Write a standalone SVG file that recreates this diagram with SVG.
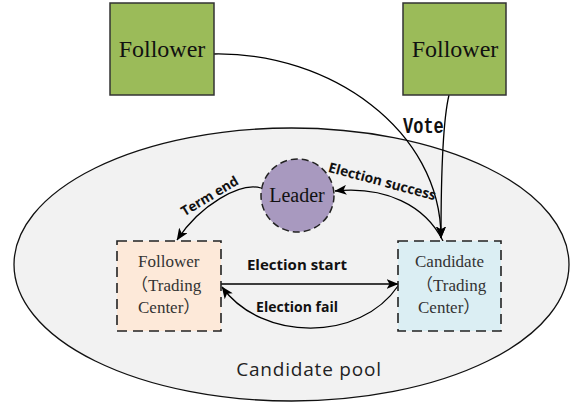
<svg xmlns="http://www.w3.org/2000/svg" width="581" height="403" viewBox="0 0 581 403">
  <style>
    .big { font-family: "Liberation Serif", "Times New Roman", serif; font-size: 24px; fill: #111; }
    .small { font-family: "Liberation Serif", "Noto Sans CJK SC", serif; font-size: 17px; fill: #333; }
    .lbl { font-family: "Open Sans", "Liberation Sans", sans-serif; font-weight: bold; fill: #111; }
    .edge { fill: none; stroke: #000; stroke-width: 1.3; }
    .dash { stroke: #222; stroke-width: 1.6; stroke-dasharray: 10 6; }
  </style>
  <defs>
    <marker id="arrow" viewBox="0 0 12 10" refX="11.5" refY="5" markerWidth="12" markerHeight="10" orient="auto" markerUnits="userSpaceOnUse">
      <path d="M0,0 L12,5 L0,10 L3,5 z" fill="#000"/>
    </marker>
  </defs>

  <rect width="581" height="403" fill="#fff"/>

  <!-- candidate pool -->
  <g id="pool">
    <ellipse cx="291.5" cy="264.5" rx="277.5" ry="136.5" fill="#f2f2f2" stroke="#111" stroke-width="1.3"/>
    <text x="309" y="376" text-anchor="middle" font-family="Open Sans, Liberation Sans, sans-serif" font-size="19" letter-spacing="0.8" fill="#222">Candidate pool</text>
  </g>

  <!-- connectors -->
  <g id="edges">
    <path class="edge" d="M214,54 C330,52 441,130 441,238" marker-end="url(#arrow)"/>
    <path class="edge" d="M449,95 C443,120 441,170 441,238" marker-end="url(#arrow)"/>
    <path class="edge" d="M443,241 C425,205 385,186 335,191" marker-end="url(#arrow)"/>
    <path class="edge" d="M261,188 C240,182 200,205 177,240" marker-end="url(#arrow)"/>
    <path class="edge" d="M221,284 L398,284" marker-end="url(#arrow)"/>
    <path class="edge" d="M398,286 C360,342 262,342 222,287" marker-end="url(#arrow)"/>
  </g>

  <!-- connector labels -->
  <g id="labels">
    <text transform="translate(403,133) scale(1,1.25)" font-family="Liberation Mono, DejaVu Sans Mono, monospace" font-weight="bold" font-size="17" fill="#111">Vote</text>
    <text transform="translate(381,186) rotate(15)" text-anchor="middle" class="lbl" font-size="13.8">Election success</text>
    <text transform="translate(212,200) rotate(-31)" text-anchor="middle" class="lbl" font-size="13.5">Term end</text>
    <text x="297" y="270" text-anchor="middle" class="lbl" font-size="15">Election start</text>
    <text x="297" y="312" text-anchor="middle" class="lbl" font-size="14">Election fail</text>
  </g>

  <!-- nodes -->
  <g id="follower-top-left">
    <rect x="110" y="3" width="104" height="92" fill="#9bbb59" stroke="#333" stroke-width="1.5"/>
    <text x="162" y="57" text-anchor="middle" class="big" font-family="Liberation Serif, serif">Follower</text>
  </g>

  <g id="follower-top-right">
    <rect x="403" y="3" width="103" height="92" fill="#9bbb59" stroke="#333" stroke-width="1.5"/>
    <text x="455" y="57" text-anchor="middle" class="big" font-family="Liberation Serif, serif">Follower</text>
  </g>

  <g id="leader">
    <circle cx="297.5" cy="195.5" r="36.5" fill="#a899bf" stroke="#222" stroke-width="1.5" stroke-dasharray="7 4"/>
    <text x="297" y="202" text-anchor="middle" font-family="Liberation Serif, serif" font-size="20" fill="#111">Leader</text>
  </g>

  <g id="follower-center">
    <rect x="117" y="241" width="104" height="90" fill="#fde9d9" class="dash"/>
    <text x="138" y="267" class="small">Follower</text>
    <text x="131" y="291" class="small">（Trading</text>
    <text x="138" y="313" class="small">Center）</text>
  </g>

  <g id="candidate-center">
    <rect x="398" y="241" width="103" height="90" fill="#dbeef3" class="dash"/>
    <text x="415" y="267" class="small">Candidate</text>
    <text x="416" y="291" class="small">（Trading</text>
    <text x="418" y="313" class="small">Center）</text>
  </g>
</svg>
